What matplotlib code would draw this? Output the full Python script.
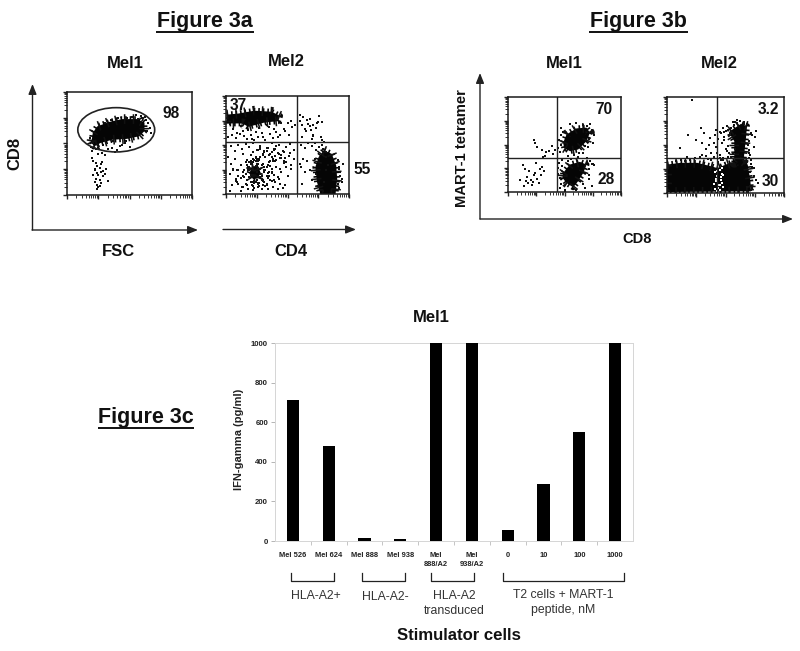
import numpy as np
import matplotlib
matplotlib.use("Agg")
import matplotlib.pyplot as plt
from matplotlib.patches import Ellipse

plt.rcParams['font.family'] = ['Liberation Sans', 'DejaVu Sans']

# ---- Figure 3c data
categories = ['Mel 526', 'Mel 624', 'Mel 888', 'Mel 938', 'Mel\n888/A2', 'Mel\n938/A2',
              '0', '10', '100', '1000']
ifn_gamma = [712, 481, 17, 8, 1000, 1000, 57, 287, 552, 1000]
y_ticks = [0, 200, 400, 600, 800, 1000]

# ---- flow panels: channel units 0-100 (dense cores as outlines, sparse events as dots)
a1_core = [(19.6,52),(20.6,60),(24,66.5),(33.5,70.8),(44,73.7),(56,73.7),(62,70),(62,62),(57.6,57),(48,54.5),(36,53.6),(27,50.6),(21.4,47)]
a1_x = [20,21,23,25,24,27,22,26,29,28,24,21,25,27,30,23,26,22,24,27,29,31,25,22,24,26,33,20,23,28,
        36,40,44,50,38,46,33,30,42,57,60,63,65,66,62,59,67,64,55,52,48,35,30,41,25,29,37,47,18,19,21]
a1_y = [36,33,31,40,28,30,24,26,23,32,21,19,19,22,20,16,15,13,10,12,18,25,8,25,6,9,14,43,45,41,
        46,44,49,47,42,50,45,39,48,74,75,73,70,65,76,77,60,62,78,76,75,73,70,75,46,49,52,52,55,47,50]
a2_core1 = [(0.5,81),(9.6,82),(23,85),(37,84),(44,79.7),(42.5,74.3),(31.5,73),(18,68.5),(13.7,72),(0.5,72)]
a2_core2 = [(79.5,44.5),(86,41),(89.6,29),(90.4,15.4),(89,0),(76.7,0),(74,12),(72.6,27.4),(75.3,37.7)]
a2_core3 = [(21,28),(26,29),(28,22),(26,16),(22,15),(19,21)]
a2_x = [3,6,9,12,15,18,21,24,27,30,33,36,39,42,45,48,51,54,2,5,8,11,14,17,20,23,26,29,32,35,38,41,44,47,
        50,53,56,4,7,10,13,16,19,22,25,28,31,34,37,40,43,46,49,52,55,
        2,4,7,9,12,14,17,19,22,24,26,28,30,33,35,37,39,41,43,45,47,49,51,53,55,
        3,6,10,14,17,20,23,25,27,29,31,33,35,37,39,41,43,45,47,50,53,
        5,9,13,16,18,20,21,23,24,26,27,29,30,32,34,36,38,40,42,44,46,48,
        3,8,12,15,18,22,25,28,31,34,37,40,44,48,52,
        10,14,18,21,24,26,29,31,33,36,20,23,25,27,30,16,19,22,26,28,
        60,63,66,68,71,74,76,78,60,62,64,67,69,71,73,75,62,65,68,71,61,64,67,70,73,60,63,
        92,93,94,91,92,95,93,92,91,94,70,71,72,
        61,64,66,70,73,75,79,81,76,78,80,62,68,72,77,81,83,80,79,81,78,77,
        # denser events around the lower-left population
        16,18,19,20,22,23,24,25,27,28,29,30,31,32,33,34,35,36,37,38,
        17,19,21,23,26,28,30,32,34,36,38,40,42,44,31,33,35,37,39,41,
        15,17,20,22,24,27,29,31,33,30,28,26,24,22,20,18,35,37,39,42,
        10,12,14,8,6,45,47,49,26,28]
a2_y = [71,66,62,69,59,65,56,63,67,58,70,61,66,58,72,64,60,68,58,60,57,61,64,56,60,55,58,62,55,68,57,63,60,66,
        72,75,70,49,44,50,46,51,48,52,45,49,43,47,52,46,50,44,48,51,45,
        38,31,36,24,30,41,35,28,43,38,34,47,40,44,33,38,45,35,41,37,43,33,39,30,36,
        20,26,18,22,14,34,11,36,8,14,28,9,22,13,19,28,15,22,32,18,26,
        9,12,7,10,5,19,9,6,12,7,11,5,9,8,5,14,7,12,5,10,6,9,
        3,15,3,17,28,4,31,17,25,30,21,34,26,37,42,
        24,18,26,32,34,27,30,22,18,34,12,11,14,35,13,33,25,36,31,20,
        81,79,76,77,70,72,80,73,75,70,66,71,65,60,67,73,58,64,69,60,50,47,52,49,45,31,36,
        28,22,15,10,6,31,18,26,35,12,56,59,52,
        28,22,34,14,20,8,46,43,48,50,53,10,25,36,4,38,30,12,3,24,55,58,
        20,25,17,31,33,13,29,22,36,26,18,31,24,38,28,21,33,41,26,36,
        30,33,12,35,10,38,14,25,16,29,34,39,42,37,44,47,40,43,46,49,
        24,9,32,8,34,11,14,12,10,41,38,11,37,19,40,28,18,22,14,17,
        10,16,7,13,24,40,34,28,45,46]
b1_core1 = [(48.8,51.8),(51.8,60.6),(60.7,67),(69.5,67.7),(72.5,62.4),(69.5,53.5),(62,44.7),(54.7,43),(49.7,46.5)]
b1_core2 = [(48.8,20),(54.7,28.9),(63.6,31.7),(69.5,28.9),(66.6,20),(62,11.3),(57.7,4.9),(51.8,9.5),(48.2,14.8)]
b1_x = [23,24,26,30,34,31,33,36,40,42,39,44,46,47,17,20,23,26,28,30,32,25,18,16,14,11,19,22,27,15,24,13,29,21,
        45,47,49,47,70,73,74,76,72,68,63,58,53,50,75,71,66,60,55,70,73,66,62,44,46,47,72,74,70,76,48,45,
        46,44,50,53,56,60,66,68,72,75,72,74,50,48]
b1_y = [55,52,47,44,42,37,38,43,40,44,48,46,42,50,16,13,18,14,24,26,22,31,9,12,6,13,22,11,9,24,20,28,18,7,
        55,60,63,67,70,72,65,60,56,48,41,39,38,44,52,47,71,73,72,36,33,41,37,25,15,8,24,30,32,28,34,31,
        4,19,2,33,35,2,8,4,14,30,18,6,1,27]
b2_core1 = [(0,29.6),(11.5,31.4),(25.9,31.4),(37.4,27.9),(43,26),(50.3,29.6),(63.2,34.8),(69,29.6),(71.3,12.2),(71.8,1.7),(0,1)]
b2_core2 = [(54,64.5),(63.2,72),(68.4,69.7),(67.5,57.5),(65.5,34.8),(57.5,31.4),(57.5,54),(54,61)]
b2_x = [21,29,32,18,11,25,33,36,30,38,37,42,40,38,48,50,46,44,49,42,47,52,51,45,48,43,46,53,41,49,44,
        73,75,72,70,74,76,72,70,73,71,74,78,76,73,72,70,
        15,20,24,12,28,17,33,35,30,40,8,45,48,52,55,56,53,50,58,60,62,68,70,
        55,57,52,54,49,58,69,71,66,72,74,73,71,66,60,56,51,45,40]
b2_y = [97,68,62,60,47,55,46,50,52,42,57,48,38,34,68,65,62,56,58,66,52,49,44,40,36,42,34,60,60,55,32,
        60,58,62,54,48,65,30,36,27,22,18,10,14,6,3,45,
        33,34,36,34,37,38,39,35,40,36,33,36,34,37,38,42,42,46,46,73,75,72,42,
        68,71,66,63,64,74,50,40,72,34,26,4,7,74,76,74,70,64,52]
# unstained specks inside the Mel2 tetramer lower population
b2_gap_x = [41,43,45,47,42,44,46,48,41,45,47,43,46,42,44,48,40,47,45,43]
b2_gap_y = [22,18,24,20,12,8,14,6,4,3,10,23,17,15,5,19,9,26,8,2]

# ---- layout helpers (image pixels)
W, H = 800, 651
def px_axes(l, t, r, b, **kw):
    return fig.add_axes([l / W, 1 - b / H, (r - l) / W, (b - t) / H], **kw)

fig = plt.figure(figsize=(8, 6.51), dpi=100)
fig.patch.set_facecolor('white')

decades = np.log10(np.arange(1, 10))
log_ticks = np.concatenate([(d + decades) * 25 for d in range(4)])
major_ticks = np.arange(0, 101, 25)

def flow_panel(box, cores, xs, ys, cross=None):
    ax = px_axes(*box)
    ax.set_xlim(0, 100); ax.set_ylim(0, 100)
    for core in cores:
        cx, cy = zip(*(core + core[:1]))
        ax.fill(cx, cy, color='#050505', lw=0, zorder=2)
        # comb-like strokes give the core its grainy, dotted edge
        ax.plot(cx, cy, color='#050505', lw=4.2, ls=(0, (0.28, 0.5)), dash_capstyle='butt', zorder=2)
        ax.plot(cx, cy, color='#111111', lw=7.0, ls=(0, (0.16, 0.75)), dash_capstyle='butt', zorder=2)
    ax.scatter(xs, ys, s=1.4, marker='s', color='#111111', linewidths=0, zorder=3)
    if cross:
        ax.axvline(cross[0], color='#222222', lw=1.0, zorder=4)
        ax.axhline(cross[1], color='#222222', lw=1.0, zorder=4)
    for s in ax.spines.values():
        s.set_linewidth(1.1); s.set_color('#1a1a1a'); s.set_zorder(6)
    ax.set_xticks(log_ticks, minor=True); ax.set_yticks(log_ticks, minor=True)
    ax.set_xticks(major_ticks); ax.set_yticks(major_ticks)
    ax.set_xticklabels([]); ax.set_yticklabels([])
    ax.tick_params(which='major', length=3, width=1.0, color='#222222')
    ax.tick_params(which='minor', length=2, width=0.7, color='#333333')
    return ax

ax_a1 = flow_panel((67, 92, 192, 195), [a1_core], a1_x, a1_y)
ax_a1.add_patch(Ellipse((39.4, 63.3), 61.5, 43, fill=False, ec='#222222', lw=1.2, zorder=4))
flow_panel((226, 96, 349, 194), [a2_core1, a2_core2, a2_core3], a2_x, a2_y, cross=(57.5, 53.5))
flow_panel((508, 97, 621, 192), [b1_core1, b1_core2], b1_x, b1_y, cross=(43, 36))
ax_b2 = flow_panel((667, 97, 784, 193), [b2_core1, b2_core2], b2_x, b2_y, cross=(42.5, 36))
ax_b2.scatter(b2_gap_x, b2_gap_y, s=2.0, marker='s', color='white', linewidths=0, zorder=3)

# ---- bar chart
ax = px_axes(275, 343, 633, 541)
pos = np.arange(len(categories))
ax.bar(pos, ifn_gamma, width=0.345, color='black', zorder=3)
ax.set_xlim(-0.5, len(categories) - 0.5)
ax.set_ylim(0, 1000)
ax.set_yticks(y_ticks)
ax.set_yticklabels([str(v) for v in y_ticks], fontsize=5.6, fontweight='bold', color='#222222')
ax.set_xticks(pos)
ax.set_xticklabels(categories, fontsize=5.4, fontweight='bold', color='#222222', linespacing=1.35, va='top')
ax.set_xticks(pos[:-1] + 0.5, minor=True)
ax.tick_params(axis='x', which='major', length=0, pad=8)
ax.tick_params(axis='x', which='minor', length=3, width=0.6, color='#bbbbbb')
ax.tick_params(axis='y', length=3, width=0.6, color='#aaaaaa', pad=2)
for s in ax.spines.values():
    s.set_color('#d5d5d5'); s.set_linewidth(0.7)
ax.set_ylabel('IFN-gamma (pg/ml)', fontsize=8, fontweight='bold', color='#222222', labelpad=5, y=0.515)

# ---- annotation overlay in image pixels
ov = fig.add_axes([0, 0, 1, 1], facecolor='none', zorder=10)
ov.set_xlim(0, W); ov.set_ylim(H, 0); ov.axis('off')

def T(x, y, s, size=12, bold=True, rot=0, color='#111111', **kw):
    ov.text(x, y, s, fontsize=size, fontweight='bold' if bold else 'normal', rotation=rot,
            ha='center', va='center', color=color, **kw)

def underline(x0, x1, y):
    ov.plot([x0, x1], [y, y], color='#111111', lw=1.4, solid_capstyle='butt')

T(205, 22, 'Figure 3a', 15.5); underline(156, 254, 32)
T(638, 22, 'Figure 3b', 15.5); underline(589, 688, 32)
T(146, 417, 'Figure 3c', 15.5); underline(98, 194, 428)

for x, y, s in [(125, 64, 'Mel1'), (286, 61, 'Mel2'), (564, 64, 'Mel1'), (719, 64, 'Mel2'), (431, 318, 'Mel1')]:
    T(x, y, s, 12)
for x, y, s in [(118, 252, 'FSC'), (291, 252, 'CD4')]:
    T(x, y, s, 12)
T(637, 239, 'CD8', 10.5)
T(15, 153, 'CD8', 12, rot=90)
T(462, 148, 'MART-1 tetramer', 10.6, rot=90)
for x, y, s in [(171, 113, '98'), (238, 105, '37'), (362, 170, '55'), (604, 110, '70'),
                (606, 180, '28'), (768, 109, '3.2'), (770, 181, '30')]:
    T(x, y, s, 11.2)

def arrow(x0, y0, x1, y1):
    ov.annotate('', xy=(x1, y1), xytext=(x0, y0),
                arrowprops=dict(arrowstyle='-|>,head_length=0.55,head_width=0.22', lw=1.0, color='#222222',
                                shrinkA=0, shrinkB=0, mutation_scale=11))
arrow(32.5, 230, 32.5, 84)
arrow(32, 230, 198, 230)
arrow(223, 229.5, 356, 229.5)
arrow(480, 219, 480, 73)
arrow(480, 219, 793, 219)

for x0, x1 in [(291, 334), (362, 405), (431, 474), (503, 624)]:
    ov.plot([x0, x0, x1, x1], [573, 580.5, 580.5, 573], color='#222222', lw=0.9)

T(316, 596, 'HLA-A2+', 8.8, bold=False, color='#333333')
T(385.5, 597, 'HLA-A2-', 8.8, bold=False, color='#333333')
T(454, 603.5, 'HLA-A2\ntransduced', 8.8, bold=False, color='#333333', linespacing=1.4)
T(563, 602.5, 'T2 cells + MART-1\npeptide, nM', 8.8, bold=False, color='#333333', linespacing=1.4)
T(459, 635, 'Stimulator cells', 12.1)

fig.savefig('out.png', dpi=100, facecolor='white')
